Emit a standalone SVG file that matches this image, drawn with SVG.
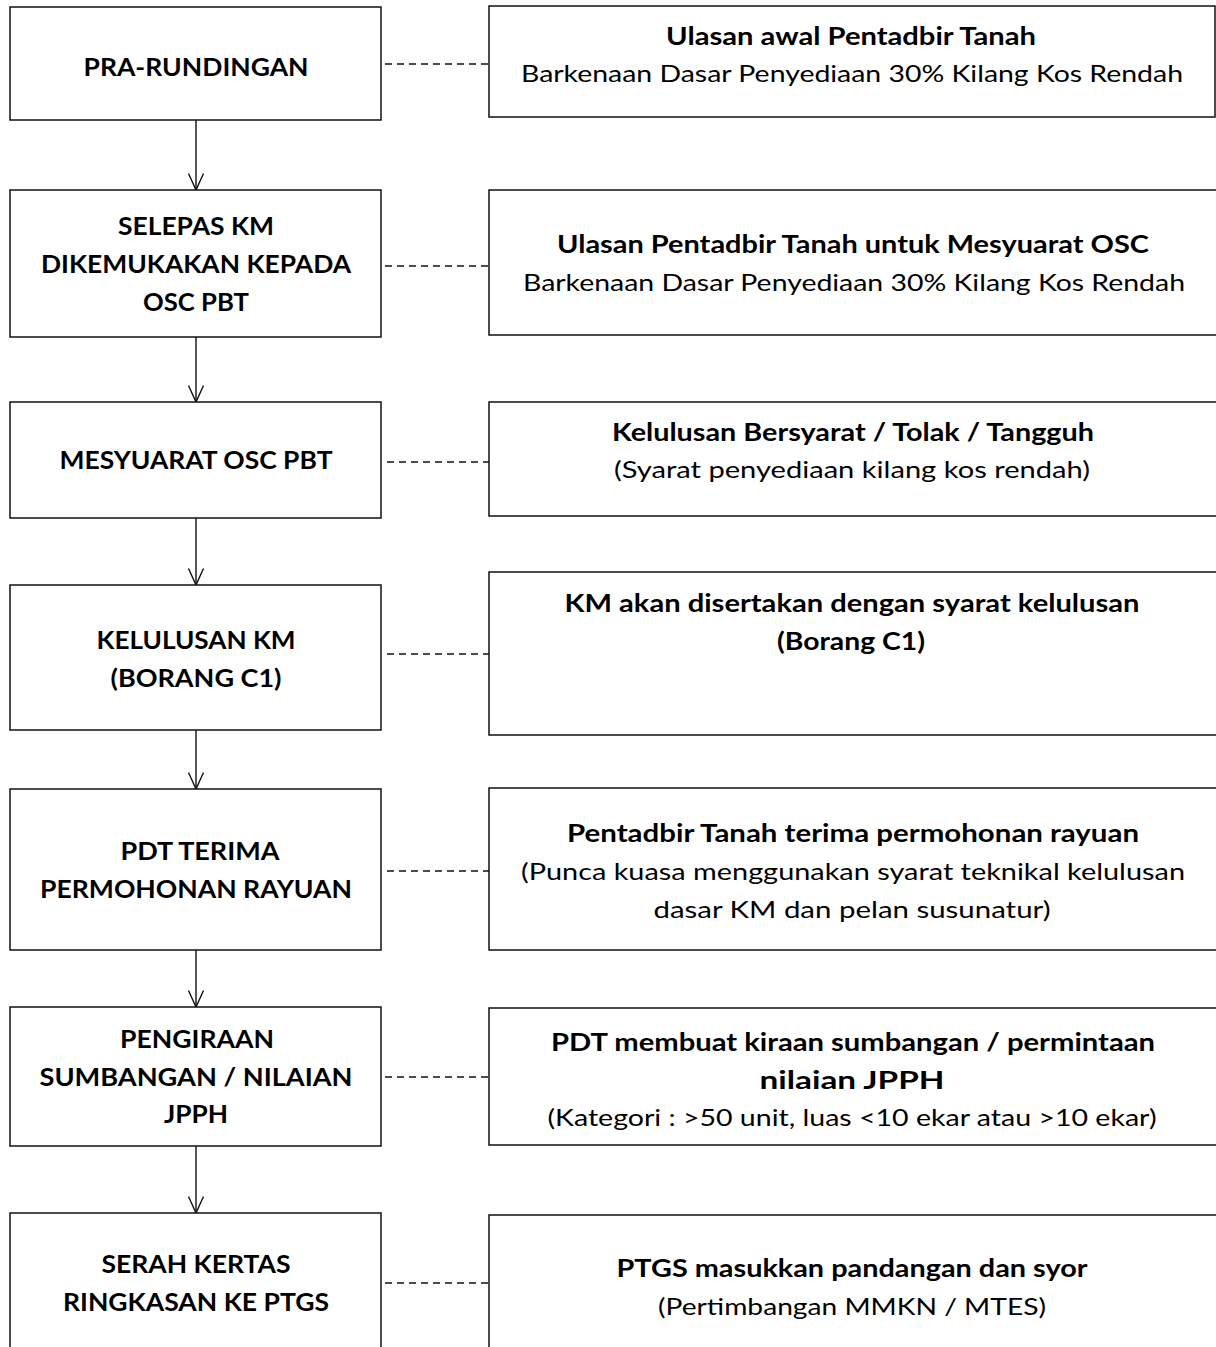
<svg xmlns="http://www.w3.org/2000/svg" width="1216" height="1347" viewBox="0 0 1216 1347">
<style>
.box{fill:#fff;stroke:#111;stroke-width:1.5}
.b{font-family:Lato,"Open Sans","Liberation Sans",sans-serif;font-weight:bold;font-size:24px;fill:#000;text-anchor:middle}
.r{font-family:Lato,"Open Sans","Liberation Sans",sans-serif;font-weight:normal;font-size:24px;fill:#000;text-anchor:middle}
.flow{stroke:#111;stroke-width:1.4;fill:none}
.dash{stroke:#111;stroke-width:1.4;stroke-dasharray:7 5;fill:none}
</style>
<defs>
<marker id="v" markerWidth="18" markerHeight="18" refX="17" refY="8" orient="auto" markerUnits="userSpaceOnUse" viewBox="0 0 18 16">
<path d="M0.5,0.5 L17,8 L0.5,15.5" fill="none" stroke="#111" stroke-width="1.4"/>
</marker>
</defs>
<rect width="1216" height="1347" fill="#fff"/>
<g id="connectors">
<line class="flow" x1="196" y1="120" x2="196" y2="190" marker-end="url(#v)"/>
<line class="flow" x1="196" y1="337" x2="196" y2="402" marker-end="url(#v)"/>
<line class="flow" x1="196" y1="518" x2="196" y2="585" marker-end="url(#v)"/>
<line class="flow" x1="196" y1="730" x2="196" y2="789" marker-end="url(#v)"/>
<line class="flow" x1="196" y1="950" x2="196" y2="1007" marker-end="url(#v)"/>
<line class="flow" x1="196" y1="1146" x2="196" y2="1213" marker-end="url(#v)"/>
<line class="dash" x1="385" y1="64" x2="489" y2="64"/>
<line class="dash" x1="385" y1="266" x2="489" y2="266"/>
<line class="dash" x1="387" y1="462" x2="489" y2="462"/>
<line class="dash" x1="387" y1="654" x2="489" y2="654"/>
<line class="dash" x1="387" y1="871" x2="489" y2="871"/>
<line class="dash" x1="385" y1="1077" x2="489" y2="1077"/>
<line class="dash" x1="385" y1="1283" x2="489" y2="1283"/>
</g>
<g id="n1">
<rect class="box" x="10" y="7" width="371" height="113"/>
<text class="b" x="196" y="76" textLength="225" lengthAdjust="spacingAndGlyphs">PRA-RUNDINGAN</text>
</g>
<g id="d1">
<rect class="box" x="489" y="6" width="726" height="111"/>
<text class="b" x="851" y="45" textLength="370" lengthAdjust="spacingAndGlyphs">Ulasan awal Pentadbir Tanah</text>
<text class="r" x="852" y="82" textLength="662" lengthAdjust="spacingAndGlyphs">Barkenaan Dasar Penyediaan 30% Kilang Kos Rendah</text>
</g>
<g id="n2">
<rect class="box" x="10" y="190" width="371" height="147"/>
<text class="b" x="196" y="235" textLength="156" lengthAdjust="spacingAndGlyphs">SELEPAS KM</text>
<text class="b" x="196" y="273" textLength="310" lengthAdjust="spacingAndGlyphs">DIKEMUKAKAN KEPADA</text>
<text class="b" x="196" y="311" textLength="106" lengthAdjust="spacingAndGlyphs">OSC PBT</text>
</g>
<g id="d2">
<rect class="box" x="489" y="190" width="740" height="145"/>
<text class="b" x="853" y="253" textLength="592" lengthAdjust="spacingAndGlyphs">Ulasan Pentadbir Tanah untuk Mesyuarat OSC</text>
<text class="r" x="854" y="291" textLength="662" lengthAdjust="spacingAndGlyphs">Barkenaan Dasar Penyediaan 30% Kilang Kos Rendah</text>
</g>
<g id="n3">
<rect class="box" x="10" y="402" width="371" height="116"/>
<text class="b" x="196" y="469" textLength="273" lengthAdjust="spacingAndGlyphs">MESYUARAT OSC PBT</text>
</g>
<g id="d3">
<rect class="box" x="489" y="402" width="740" height="114"/>
<text class="b" x="853" y="441" textLength="482" lengthAdjust="spacingAndGlyphs">Kelulusan Bersyarat / Tolak / Tangguh</text>
<text class="r" x="852" y="478" textLength="476" lengthAdjust="spacingAndGlyphs">(Syarat penyediaan kilang kos rendah)</text>
</g>
<g id="n4">
<rect class="box" x="10" y="585" width="371" height="145"/>
<text class="b" x="196" y="649" textLength="199" lengthAdjust="spacingAndGlyphs">KELULUSAN KM</text>
<text class="b" x="196" y="687" textLength="171" lengthAdjust="spacingAndGlyphs">(BORANG C1)</text>
</g>
<g id="d4">
<rect class="box" x="489" y="572" width="740" height="163"/>
<text class="b" x="852" y="612" textLength="575" lengthAdjust="spacingAndGlyphs">KM akan disertakan dengan syarat kelulusan</text>
<text class="b" x="851" y="650" textLength="148" lengthAdjust="spacingAndGlyphs">(Borang C1)</text>
</g>
<g id="n5">
<rect class="box" x="10" y="789" width="371" height="161"/>
<text class="b" x="200" y="860" textLength="159" lengthAdjust="spacingAndGlyphs">PDT TERIMA</text>
<text class="b" x="196" y="898" textLength="312" lengthAdjust="spacingAndGlyphs">PERMOHONAN RAYUAN</text>
</g>
<g id="d5">
<rect class="box" x="489" y="788" width="740" height="162"/>
<text class="b" x="853" y="842" textLength="572" lengthAdjust="spacingAndGlyphs">Pentadbir Tanah terima permohonan rayuan</text>
<text class="r" x="853" y="880" textLength="664" lengthAdjust="spacingAndGlyphs">(Punca kuasa menggunakan syarat teknikal kelulusan</text>
<text class="r" x="852" y="918" textLength="397" lengthAdjust="spacingAndGlyphs">dasar KM dan pelan  susunatur)</text>
</g>
<g id="n6">
<rect class="box" x="10" y="1007" width="371" height="139"/>
<text class="b" x="197" y="1048" textLength="154" lengthAdjust="spacingAndGlyphs">PENGIRAAN</text>
<text class="b" x="196" y="1086" textLength="313" lengthAdjust="spacingAndGlyphs">SUMBANGAN / NILAIAN</text>
<text class="b" x="196" y="1123" textLength="64" lengthAdjust="spacingAndGlyphs">JPPH</text>
</g>
<g id="d6">
<rect class="box" x="489" y="1008" width="740" height="137"/>
<text class="b" x="853" y="1051" textLength="604" lengthAdjust="spacingAndGlyphs">PDT membuat kiraan sumbangan / permintaan</text>
<text class="b" x="852" y="1089" textLength="185" lengthAdjust="spacingAndGlyphs">nilaian JPPH</text>
<text class="r" x="852" y="1126" textLength="609" lengthAdjust="spacingAndGlyphs">(Kategori : &gt;50 unit, luas &lt;10 ekar atau &gt;10 ekar)</text>
</g>
<g id="n7">
<rect class="box" x="10" y="1213" width="371" height="150"/>
<text class="b" x="196" y="1273" textLength="189" lengthAdjust="spacingAndGlyphs">SERAH KERTAS</text>
<text class="b" x="196" y="1311" textLength="266" lengthAdjust="spacingAndGlyphs">RINGKASAN KE PTGS</text>
</g>
<g id="d7">
<rect class="box" x="489" y="1215" width="740" height="150"/>
<text class="b" x="852" y="1277" textLength="471" lengthAdjust="spacingAndGlyphs">PTGS masukkan pandangan dan syor</text>
<text class="r" x="852" y="1315" textLength="388" lengthAdjust="spacingAndGlyphs">(Pertimbangan MMKN / MTES)</text>
</g>
</svg>
